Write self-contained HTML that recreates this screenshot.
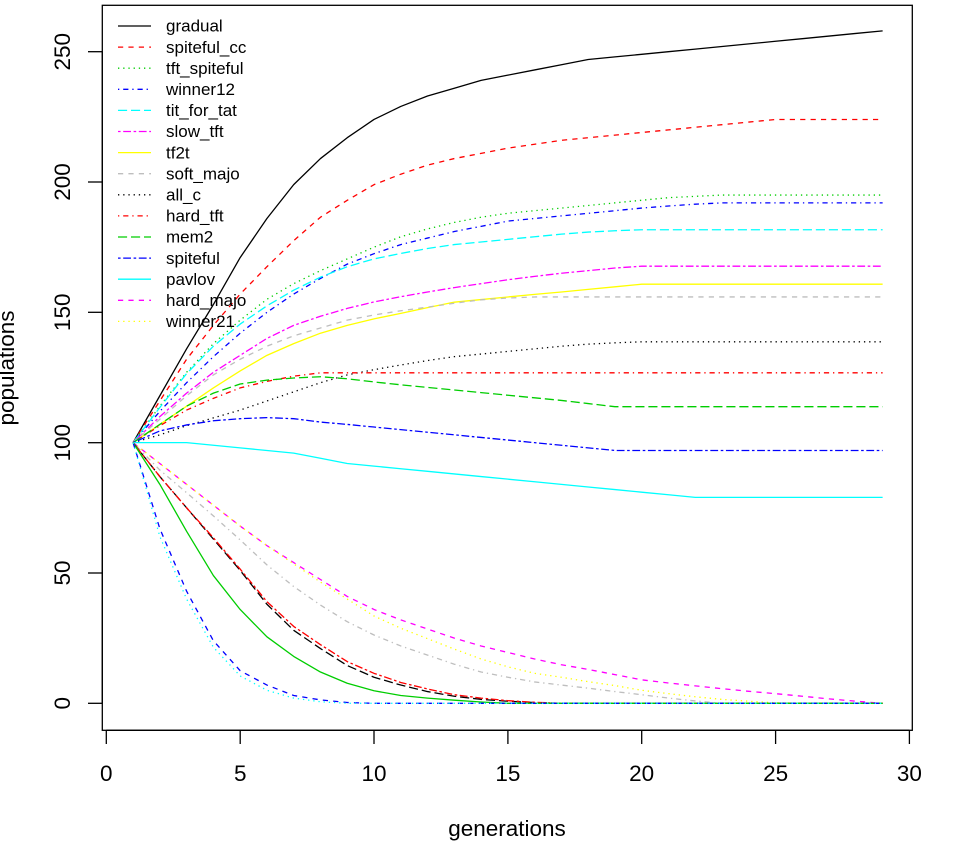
<!DOCTYPE html>
<html><head><meta charset="utf-8"><style>
html,body{margin:0;padding:0;background:#fff;}
svg{display:block;}
text{font-family:"Liberation Sans",Arial,sans-serif;fill:#000;}
.s{fill:none;stroke-width:1.3;vector-effect:non-scaling-stroke;stroke-linejoin:round;}
.l{fill:none;stroke-width:1.3;}
.d2{stroke-dasharray:5.2 5.2}
.d3{stroke-dasharray:1.3 3.9}
.d4{stroke-dasharray:1.3 3.9 5.2 3.9}
.d5{stroke-dasharray:9.1 3.9}
.d6{stroke-dasharray:2.6 2.6 7.8 2.6}
</style></head><body>
<svg width="954" height="847" viewBox="0 0 954 847" xmlns="http://www.w3.org/2000/svg">
<rect x="0" y="0" width="954" height="847" fill="#fff"/>
<g transform="matrix(26.77,0,0,-2.6064,106.3,703.3)">
<polyline class="s" stroke="#000000" points="1,100 2,118 3,136 4,153 5,171 6,186 7,199 8,209 9,217 10,224 11,229 12,233 13,236 14,239 15,241 16,243 17,245 18,247 19,248 20,249 21,250 22,251 23,252 24,253 25,254 26,255 27,256 28,257 29,258"/>
<polyline class="s d2" stroke="#FF0000" points="1,100 2,116 3,132 4,145 5,157 6,167.5 7,177.5 8,186.5 9,193 10,199 11,203 12,206.5 13,209 14,211 15,213 16,214.5 17,216 18,217 19,218 20,219 21,220 22,221 23,222 24,223 25,224 26,224 27,224 28,224 29,224"/>
<polyline class="s d3" stroke="#00CD00" points="1,100 2,114 3,127 4,138 5,147 6,155 7,161 8,166 9,170.5 10,175 11,179 12,182 13,184.5 14,186.5 15,188 16,189 17,190 18,191 19,192 20,193 21,194 22,194.5 23,195 24,195 25,195 26,195 27,195 28,195 29,195"/>
<polyline class="s d4" stroke="#0000FF" points="1,100 2,112 3,123 4,133 5,142 6,150 7,157 8,163 9,168.5 10,172.5 11,176 12,178.5 13,181 14,183 15,185 16,186 17,187 18,188 19,189 20,190 21,190.8 22,191.5 23,192 24,192 25,192 26,192 27,192 28,192 29,192"/>
<polyline class="s d5" stroke="#00FFFF" points="1,100 2,113.5 3,126.5 4,137 5,145.5 6,152.5 7,158.5 8,163.5 9,167.5 10,170.5 11,172.6 12,174.5 13,176 14,177 15,178 16,179 17,180 18,180.8 19,181.3 20,181.7 21,181.7 22,181.7 23,181.7 24,181.7 25,181.7 26,181.7 27,181.7 28,181.7 29,181.7"/>
<polyline class="s d6" stroke="#FF00FF" points="1,100 2,110 3,119 4,127 5,133.5 6,140 7,145 8,148.5 9,151.5 10,154 11,156 12,157.8 13,159.5 14,161 15,162.5 16,163.8 17,165 18,166 19,167 20,167.7 21,167.7 22,167.7 23,167.7 24,167.7 25,167.7 26,167.7 27,167.7 28,167.7 29,167.7"/>
<polyline class="s" stroke="#FFFF00" points="1,100 2,107 3,114 4,121 5,127.5 6,133.5 7,138 8,142 9,145 10,147.5 11,149.6 12,151.8 13,153.9 14,154.9 15,155.9 16,156.9 17,157.8 18,158.8 19,159.8 20,160.8 29,160.8"/>
<polyline class="s d2" stroke="#BEBEBE" points="1,100 2,109 3,118 4,126 5,132 6,137 7,141 8,144 9,147 10,149 11,150.6 12,152 13,153.5 14,154.8 15,155.5 16,155.9 17,155.9 18,155.9 19,155.9 20,155.9 21,155.9 22,155.9 23,155.9 24,155.9 25,155.9 26,155.9 27,155.9 28,155.9 29,155.9"/>
<polyline class="s d3" stroke="#000000" points="1,100 2,103 3,106.5 4,109.5 5,112.5 6,116 7,119.5 8,123 9,126 10,128 11,129.8 12,131.5 13,133 14,134 15,135 16,136 17,137 18,137.8 19,138.3 20,138.7 21,138.7 22,138.7 23,138.7 24,138.7 25,138.7 26,138.7 27,138.7 28,138.7 29,138.7"/>
<polyline class="s d4" stroke="#FF0000" points="1,100 2,106.5 3,112.5 4,117 5,121 6,123.5 7,125.5 8,126.8 9,126.8 10,126.8 11,126.8 12,126.8 13,126.8 14,126.8 15,126.8 16,126.8 17,126.8 18,126.8 19,126.8 20,126.8 21,126.8 22,126.8 23,126.8 24,126.8 25,126.8 26,126.8 27,126.8 28,126.8 29,126.8"/>
<polyline class="s d5" stroke="#00CD00" points="1,100 2,107 3,114 4,119 5,122.5 6,124 7,124.8 8,125.3 9,124.5 10,123.3 11,122.2 12,121.2 13,120.2 14,119.2 15,118.2 16,117.2 17,116.2 18,115 19,113.8 20,113.8 21,113.8 22,113.8 23,113.8 24,113.8 25,113.8 26,113.8 27,113.8 28,113.8 29,113.8"/>
<polyline class="s d6" stroke="#0000FF" points="1,100 2,104.5 3,106.8 4,108.4 5,109.2 6,109.6 7,109.2 8,107.9 9,107 10,106 11,105 12,104 13,103 14,102 15,101 16,100 17,99 18,98 19,97 20,97 21,97 22,97 23,97 24,97 25,97 26,97 27,97 28,97 29,97"/>
<polyline class="s" stroke="#00FFFF" points="1,100 2,100 3,100 4,99 5,98 6,97 7,96 8,94 9,92 10,91 11,90 12,89 13,88 14,87 15,86 16,85 17,84 18,83 19,82 20,81 21,80 22,79 29,79"/>
<polyline class="s d2" stroke="#FF00FF" points="1,100 2,92 3,84 4,76 5,68 6,60.5 7,54 8,47.5 9,41 10,36 11,32 12,28.5 13,25 14,22 15,19.5 16,17 17,14.8 18,13 19,11 20,9 21,7.8 22,6.7 23,5.6 24,4.6 25,3.7 26,2.7 27,1.7 28,0.8 29,0"/>
<polyline class="s d3" stroke="#FFFF00" points="1,100 2,92 3,84 4,76 5,68 6,60.5 7,53.5 8,46.5 9,40 10,33.5 11,28.8 12,24.8 13,20.8 14,17 15,14 16,11.5 17,10 18,8.3 19,6.8 20,5 21,3.7 22,2.5 23,1.5 24,0.8 25,0.2 26,0 27,0 28,0 29,0"/>
<polyline class="s d4" stroke="#BEBEBE" points="1,100 2,89.5 3,80.8 4,71.9 5,62.7 6,53.1 7,44.8 8,37.7 9,31.3 10,26.2 11,22 12,18.5 13,15 14,12 15,10 16,8.2 17,7 18,5.8 19,4.5 20,3.3 21,2 22,0.9 23,0 24,0 25,0 26,0 27,0 28,0 29,0"/>
<polyline class="s d5" stroke="#000000" points="1,100 2,87 3,75 4,63 5,51 6,38 7,28 8,21 9,14.5 10,10 11,7 12,4.5 13,2.7 14,1.5 15,0.8 16,0.3 17,0 18,0 19,0 20,0 21,0 22,0 23,0 24,0 25,0 26,0 27,0 28,0 29,0"/>
<polyline class="s d6" stroke="#FF0000" points="1,100 2,87 3,75 4,63.5 5,51.5 6,39 7,29.5 8,22.5 9,16 10,11.5 11,8 12,5.5 13,3.3 14,2 15,1 16,0.4 17,0 18,0 19,0 20,0 21,0 22,0 23,0 24,0 25,0 26,0 27,0 28,0 29,0"/>
<polyline class="s" stroke="#00CD00" points="1,100 2,84 3,66 4,49 5,36 6,25.5 7,18 8,12 9,7.7 10,4.8 11,3 12,2 13,1.2 14,0.5 15,0 29,0"/>
<polyline class="s d2" stroke="#0000FF" points="1,100 2,67 3,43 4,24 5,12.5 6,7 7,3 8,1.3 9,0.3 10,0 11,0 12,0 13,0 14,0 15,0 16,0 17,0 18,0 19,0 20,0 21,0 22,0 23,0 24,0 25,0 26,0 27,0 28,0 29,0"/>
<polyline class="s d3" stroke="#00FFFF" points="1,100 2,64 3,40 4,21.5 5,10.5 6,5 7,2 8,0.6 9,0 10,0 11,0 12,0 13,0 14,0 15,0 16,0 17,0 18,0 19,0 20,0 21,0 22,0 23,0 24,0 25,0 26,0 27,0 28,0 29,0"/>
</g>
<!-- box -->
<rect x="102.3" y="5.3" width="810" height="725" fill="none" stroke="#000" stroke-width="1.3"/>
<!-- axes -->
<g stroke="#000" stroke-width="1.3">
<line x1="106.3" y1="730.3" x2="909.4" y2="730.3"/>
<line x1="106.3" y1="730.3" x2="106.3" y2="744"/>
<line x1="240.2" y1="730.3" x2="240.2" y2="744"/>
<line x1="374.0" y1="730.3" x2="374.0" y2="744"/>
<line x1="507.9" y1="730.3" x2="507.9" y2="744"/>
<line x1="641.7" y1="730.3" x2="641.7" y2="744"/>
<line x1="775.6" y1="730.3" x2="775.6" y2="744"/>
<line x1="909.4" y1="730.3" x2="909.4" y2="744"/>
<line x1="102.3" y1="51.7" x2="102.3" y2="703.3"/>
<line x1="88" y1="703.3" x2="102.3" y2="703.3"/>
<line x1="88" y1="573.0" x2="102.3" y2="573.0"/>
<line x1="88" y1="442.7" x2="102.3" y2="442.7"/>
<line x1="88" y1="312.3" x2="102.3" y2="312.3"/>
<line x1="88" y1="182.0" x2="102.3" y2="182.0"/>
<line x1="88" y1="51.7" x2="102.3" y2="51.7"/>
</g>
<g font-size="22.5" text-anchor="middle">
<text x="106.3" y="781">0</text>
<text x="240.2" y="781">5</text>
<text x="374.0" y="781">10</text>
<text x="507.9" y="781">15</text>
<text x="641.7" y="781">20</text>
<text x="775.6" y="781">25</text>
<text x="909.4" y="781">30</text>
<text transform="translate(70,703.3) rotate(-90)">0</text>
<text transform="translate(70,573.0) rotate(-90)">50</text>
<text transform="translate(70,442.7) rotate(-90)">100</text>
<text transform="translate(70,312.3) rotate(-90)">150</text>
<text transform="translate(70,182.0) rotate(-90)">200</text>
<text transform="translate(70,51.7) rotate(-90)">250</text>
<text x="507" y="836">generations</text>
<text transform="translate(14,368) rotate(-90)">populations</text>
</g>
<!-- legend -->
<g>
<line class="l" stroke="#000000" x1="118" y1="26" x2="151" y2="26"/>
<line class="l d2" stroke="#FF0000" x1="118" y1="47.1" x2="151" y2="47.1"/>
<line class="l d3" stroke="#00CD00" x1="118" y1="68.2" x2="151" y2="68.2"/>
<line class="l d4" stroke="#0000FF" x1="118" y1="89.3" x2="151" y2="89.3"/>
<line class="l d5" stroke="#00FFFF" x1="118" y1="110.4" x2="151" y2="110.4"/>
<line class="l d6" stroke="#FF00FF" x1="118" y1="131.5" x2="151" y2="131.5"/>
<line class="l" stroke="#FFFF00" x1="118" y1="152.6" x2="151" y2="152.6"/>
<line class="l d2" stroke="#BEBEBE" x1="118" y1="173.7" x2="151" y2="173.7"/>
<line class="l d3" stroke="#000000" x1="118" y1="194.8" x2="151" y2="194.8"/>
<line class="l d4" stroke="#FF0000" x1="118" y1="215.9" x2="151" y2="215.9"/>
<line class="l d5" stroke="#00CD00" x1="118" y1="237" x2="151" y2="237"/>
<line class="l d6" stroke="#0000FF" x1="118" y1="258.1" x2="151" y2="258.1"/>
<line class="l" stroke="#00FFFF" x1="118" y1="279.2" x2="151" y2="279.2"/>
<line class="l d2" stroke="#FF00FF" x1="118" y1="300.3" x2="151" y2="300.3"/>
<line class="l d3" stroke="#FFFF00" x1="118" y1="321.4" x2="151" y2="321.4"/>
</g>
<g font-size="17">
<text x="166" y="31.7">gradual</text>
<text x="166" y="52.8">spiteful_cc</text>
<text x="166" y="73.9">tft_spiteful</text>
<text x="166" y="95">winner12</text>
<text x="166" y="116.1">tit_for_tat</text>
<text x="166" y="137.2">slow_tft</text>
<text x="166" y="158.3">tf2t</text>
<text x="166" y="179.4">soft_majo</text>
<text x="166" y="200.5">all_c</text>
<text x="166" y="221.6">hard_tft</text>
<text x="166" y="242.7">mem2</text>
<text x="166" y="263.8">spiteful</text>
<text x="166" y="284.9">pavlov</text>
<text x="166" y="306">hard_majo</text>
<text x="166" y="327.1">winner21</text>
</g>
</svg>
</body></html>
